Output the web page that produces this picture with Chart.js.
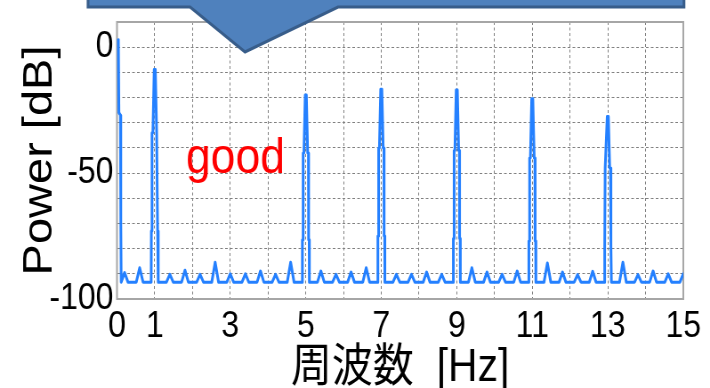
<!DOCTYPE html>
<html>
<head>
<meta charset="utf-8">
<script src="https://cdn.jsdelivr.net/npm/chart.js@4.4.1/dist/chart.umd.min.js"></script>
<style>
  html, body { margin: 0; padding: 0; background: #fff; overflow: hidden; }
  #wrap { width: 798px; height: 388px; transform: scaleX(0.88972); transform-origin: 0 0; }
  canvas { display: block; }
</style>
</head>
<body>
<div id="wrap"><canvas id="spectrum" width="798" height="388" style="width:798px;height:388px"></canvas></div>
<script>
// Power spectrum of the measured signal (dB vs Hz)
const floorDb = -93.3;

// DC component
const dcFreqHz  = [0.035, 0.05, 0.09, 0.10, 0.11];
const dcPowerDb = [3, -26, -27, -70, -93.3];

// Tones: peak level, upper shoulder and lower skirt of each line
const toneFreqHz     = [1, 5, 7, 9, 11, 13];
const tonePeakDb     = [-8.9, -19.0, -16.7, -17.0, -20.5, -27.5];
const toneShoulderDb = [-34, -42, -40, -41, -44, -48];
const toneSkirtDb    = [-73, -76.5, -75, -76, -77, -79];

// Small ripple lobes along the noise floor
const rippleFreqHz = [0.2, 0.6, 1.4, 1.8, 2.2, 2.6, 3.0, 3.4, 3.8, 4.2, 4.6,
                      5.4, 5.8, 6.2, 6.6, 7.4, 7.8, 8.2, 8.6, 9.4, 9.8, 10.2, 10.6,
                      11.4, 11.8, 12.2, 12.6, 13.4, 13.8, 14.2, 14.6, 15.0];
const ripplePeakDb = [-89.5, -87.6, -90.2, -88.6, -90.2, -85.4, -90.0, -90.0, -88.9, -90.2, -85.4,
                      -88.9, -90.2, -89.3, -87.6, -90.2, -90.2, -89.3, -90.2, -87.6, -89.3, -90.2, -88.9,
                      -85.7, -89.3, -90.3, -89.0, -85.4, -90.3, -88.9, -90.0, -90.0];

const xTickLabels = [0, 1, 3, 5, 7, 9, 11, 13, 15];
const yTickLabels = [-100, -50, 0];

// Assemble the trace as (Hz, dB) pairs
const trace = [];
dcFreqHz.forEach((f, i) => trace.push({ x: f, y: dcPowerDb[i] }));
toneFreqHz.forEach((f, i) => {
  const pk = tonePeakDb[i], sh = toneShoulderDb[i], sk = toneSkirtDb[i];
  const shape = [[-0.095, floorDb], [-0.09, sk], [-0.075, sk], [-0.07, sh], [-0.05, sh],
                 [-0.015, pk], [0.015, pk],
                 [0.05, sh], [0.07, sh], [0.075, sk], [0.09, sk], [0.095, floorDb]];
  shape.forEach(([d, v]) => trace.push({ x: f + d, y: v }));
});
rippleFreqHz.forEach((f, i) => {
  trace.push({ x: f - 0.09, y: floorDb }, { x: f, y: ripplePeakDb[i] }, { x: f + 0.09, y: floorDb });
});
trace.sort((a, b) => a.x - b.x);

const latin = '"Liberation Sans", Arial, "Noto Sans CJK JP", sans-serif';

// Plot frame on all four sides
const framePlugin = {
  id: 'frame',
  beforeDatasetsDraw(chart) {
    const { ctx, chartArea: a } = chart;
    ctx.save();
    ctx.strokeStyle = '#a6a6a6';
    ctx.lineWidth = 2;
    ctx.strokeRect(a.left, a.top, a.right - a.left, a.bottom - a.top);
    ctx.restore();
  }
};

// Callout arrow across the top and the red note
const calloutPlugin = {
  id: 'callout',
  afterDraw(chart) {
    const { ctx } = chart;
    const sx = 1 / 0.88972;
    ctx.save();
    ctx.fillStyle = '#ffffff';
    ctx.fillRect(366 * sx, 11, (442 - 366) * sx, 6);
    ctx.beginPath();
    ctx.moveTo(88 * sx, -20);
    ctx.lineTo(684 * sx, -20);
    ctx.lineTo(684 * sx, 7);
    ctx.lineTo(338 * sx, 7);
    ctx.lineTo(245 * sx, 52);
    ctx.lineTo(190 * sx, 7);
    ctx.lineTo(88 * sx, 7);
    ctx.closePath();
    ctx.fillStyle = '#4f81bd';
    ctx.fill();
    ctx.lineWidth = 3;
    ctx.lineJoin = 'miter';
    ctx.strokeStyle = '#385d8a';
    ctx.stroke();
    ctx.fillStyle = '#ff0000';
    ctx.font = '50px ' + latin;
    ctx.textBaseline = 'alphabetic';
    ctx.textAlign = 'left';
    ctx.fillText('good', 186 * sx, 173);
    ctx.restore();
  }
};

new Chart(document.getElementById('spectrum'), {
  type: 'line',
  data: {
    datasets: [{
      data: trace,
      borderColor: '#2480ff',
      borderWidth: 3,
      pointRadius: 0,
      tension: 0,
      fill: false,
      borderJoinStyle: 'round',
      borderCapStyle: 'round',
      clip: { left: 6, top: 6, right: 0, bottom: 6 }
    }]
  },
  options: {
    responsive: false,
    animation: false,
    devicePixelRatio: 1,
    layout: { padding: { top: 14, right: 24.7, bottom: 0, left: 0 } },
    plugins: { legend: { display: false }, tooltip: { enabled: false } },
    scales: {
      x: {
        type: 'linear',
        min: 0,
        max: 15,
        ticks: {
          stepSize: 1,
          autoSkip: false,
          maxRotation: 0,
          padding: 10,
          color: '#000',
          font: { family: latin, size: 36, lineHeight: 1 },
          callback: v => (xTickLabels.includes(v) ? String(v) : '')
        },
        grid: { color: '#808080', lineWidth: 1, drawTicks: false, borderDash: [3, 2.5] },
        border: { display: false, dash: [3, 2.5] },
        title: {
          display: true,
          text: '周波数  [Hz]',
          color: '#000',
          font: { family: latin, size: 46, lineHeight: 1 },
          padding: { top: 0, bottom: -3 }
        },
        afterFit: s => { s.height = 89; }
      },
      y: {
        type: 'linear',
        min: -100,
        max: 10,
        ticks: {
          stepSize: 10,
          autoSkip: false,
          padding: 4,
          color: '#000',
          font: { family: latin, size: 36, lineHeight: 1 },
          callback: v => (yTickLabels.includes(v) ? String(v) : '')
        },
        grid: { color: '#808080', lineWidth: 1, drawTicks: false, borderDash: [3, 2.5] },
        border: { display: false, dash: [3, 2.5] },
        title: {
          display: true,
          text: 'Power [dB]',
          color: '#000',
          font: { family: latin, size: 47, lineHeight: 1 },
          padding: { top: 21.5, bottom: 0 }
        },
        afterFit: s => { s.width = 131.5; }
      }
    }
  },
  plugins: [framePlugin, calloutPlugin]
});
</script>
</body>
</html>
